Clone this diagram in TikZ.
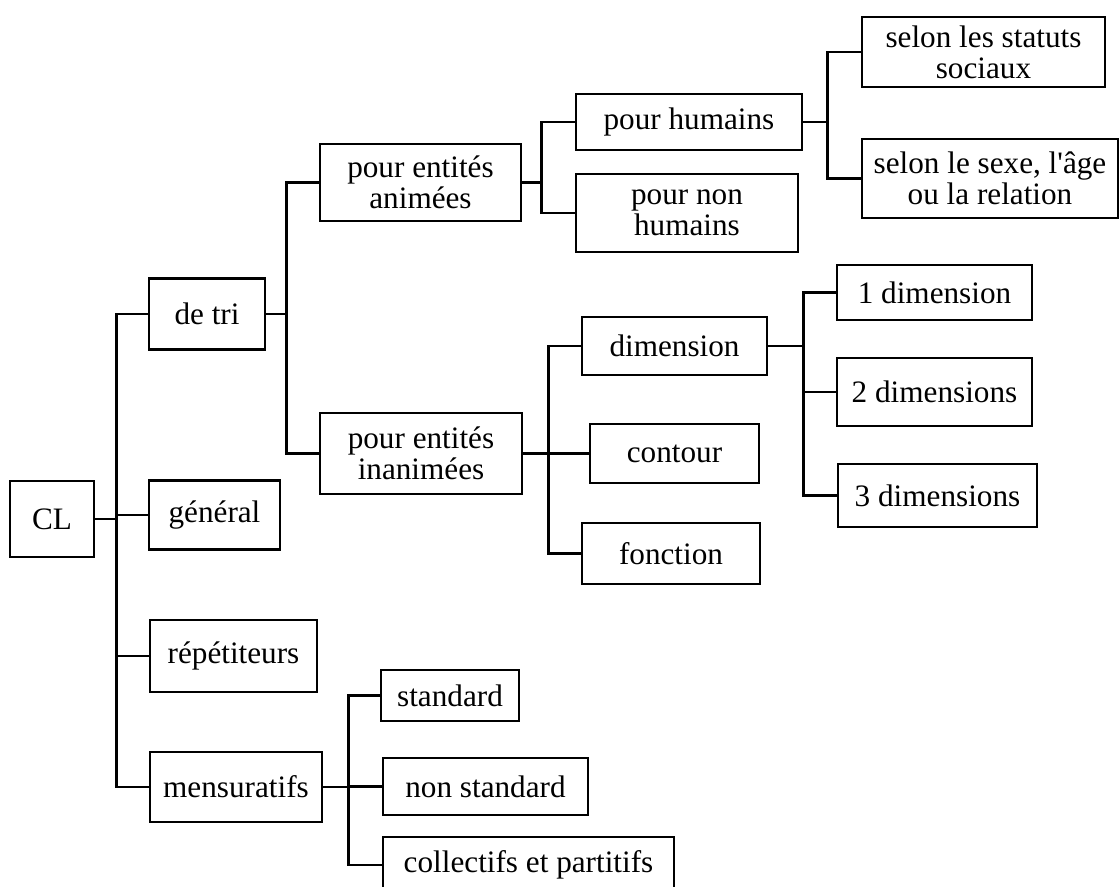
\documentclass[tikz,border=0pt]{standalone}
\usepackage{fontspec}
\setmainfont{Liberation Serif}
\usepackage{tikz}

\begin{document}
\begin{tikzpicture}[
  x=0.5pt,y=-0.5pt,
  b/.style={draw,line width=1.3pt,align=center,inner sep=0pt,
            font=\fontsize{15.6}{15.4}\selectfont},
  ln/.style={draw,line width=1.3pt},
  ]
  \useasboundingbox (0,0) rectangle (1120,887);

  \node[b,minimum width=42pt,minimum height=38pt] (cl) at (52,519) {CL};
  \node[b,minimum width=58pt,minimum height=35.5pt] (tri) at (207,314) {de tri};
  \node[b,minimum width=65.5pt,minimum height=34.5pt] (gen) at (214.5,515) {général};
  \node[b,minimum width=83.5pt,minimum height=36pt] (rep) at (233.5,656) {répétiteurs};
  \node[b,minimum width=86pt,minimum height=35pt] (mens) at (236,787) {mensuratifs};

  \node[b,minimum width=100.5pt,minimum height=38.5pt] (anim) at (420.5,182.5)
    {pour entités\\animées};
  \node[b,minimum width=101pt,minimum height=40.5pt] (inan) at (421,453.5)
    {pour entités\\inanimées};

  \node[b,minimum width=113pt,minimum height=28pt] (hum) at (689,122) {pour humains};
  \node[b,minimum width=111pt,minimum height=39pt] (nhum) at (687,213)
    {pour non\\humains};
  \node[b,minimum width=121.5pt,minimum height=35pt] (stat) at (983.5,52)
    {selon les statuts\\sociaux};
  \node[b,minimum width=128pt,minimum height=39.5pt] (sexe) at (990,178.5)
    {selon le sexe, l\textquotesingle âge\\ou la relation};

  \node[b,minimum width=92.5pt,minimum height=29pt] (dim) at (674.5,346) {dimension};
  \node[b,minimum width=84.5pt,minimum height=29.5pt] (cont) at (674.5,453.5) {contour};
  \node[b,minimum width=89pt,minimum height=30.5pt] (fonc) at (671,553.5) {fonction};
  \node[b,minimum width=97.5pt,minimum height=27.5pt] (d1) at (934.5,292.5) {1 dimension};
  \node[b,minimum width=97.5pt,minimum height=34pt] (d2) at (934.5,392) {2 dimensions};
  \node[b,minimum width=99.5pt,minimum height=31.5pt] (d3) at (937.5,495.5) {3 dimensions};

  \node[b,minimum width=69pt,minimum height=25.5pt] (std) at (450,695.5) {standard};
  \node[b,minimum width=102.5pt,minimum height=28.5pt] (nstd) at (485.5,786.5)
    {non standard};
  \node[b,minimum width=145.5pt,minimum height=28pt] (coll) at (528.5,865)
    {collectifs et partitifs};

  \draw[ln] (cl.east) -- ++(21,0) |- (tri.west);
  \draw[ln] (cl.east) -- ++(21,0) |- (gen.west);
  \draw[ln] (cl.east) -- ++(21,0) |- (rep.west);
  \draw[ln] (cl.east) -- ++(21,0) |- (mens.west);

  \draw[ln] (tri.east) -- ++(20,0) |- (anim.west);
  \draw[ln] (tri.east) -- ++(20,0) |- (inan.west);

  \draw[ln] (anim.east) -- ++(19,0) |- (hum.west);
  \draw[ln] (anim.east) -- ++(19,0) |- (nhum.west);
  \draw[ln] (hum.east) -- ++(24,0) |- (stat.west);
  \draw[ln] (hum.east) -- ++(24,0) |- (sexe.west);

  \draw[ln] (inan.east) -- ++(25,0) |- (dim.west);
  \draw[ln] (inan.east) -- ++(25,0) |- (cont.west);
  \draw[ln] (inan.east) -- ++(25,0) |- (fonc.west);
  \draw[ln] (dim.east) -- ++(35,0) |- (d1.west);
  \draw[ln] (dim.east) -- ++(35,0) |- (d2.west);
  \draw[ln] (dim.east) -- ++(35,0) |- (d3.west);

  \draw[ln] (mens.east) -- ++(25,0) |- (std.west);
  \draw[ln] (mens.east) -- ++(25,0) |- (nstd.west);
  \draw[ln] (mens.east) -- ++(25,0) |- (coll.west);
\end{tikzpicture}
\end{document}
